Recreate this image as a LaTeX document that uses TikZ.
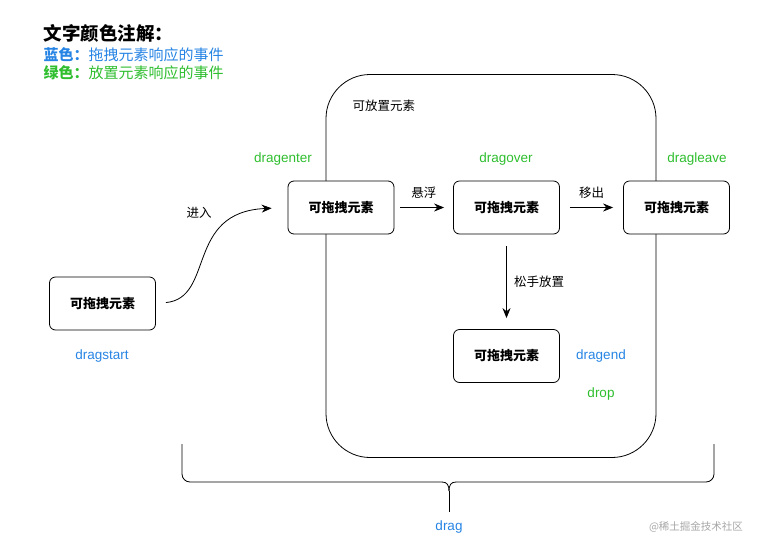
\documentclass[tikz,border=0pt]{standalone}
\usepackage{fontspec}
\setmainfont{Liberation Sans}
\newfontfamily\cjk{Noto Sans CJK SC}
\usetikzlibrary{arrows.meta}

\definecolor{evblue}{RGB}{38,132,228}
\definecolor{evgreen}{RGB}{46,190,46}

\tikzset{
  elem/.style={draw, rounded corners=6pt, fill=white, minimum width=106pt,
    minimum height=53pt, font=\cjk\fontsize{13}{15}\selectfont\bfseries},
  flow/.style={-{Stealth[length=10pt,width=8pt]}},
  evtxt/.style={font=\fontsize{13.5}{15}\selectfont},
  tip/.style={font=\cjk\fontsize{12.5}{14}\selectfont}
}

\begin{document}
\begin{tikzpicture}[x=1pt, y=-1pt, line width=0.8pt]
  \useasboundingbox (0,0) rectangle (782,552);
  % Legend
  \node[anchor=west, font=\cjk\fontsize{18.5}{20}\selectfont\bfseries] (title) at (40,33) {文字颜色注解：};
  \node[anchor=west, evblue, font=\cjk\fontsize{15}{17}\selectfont] (legblue) at (40,55) {\textbf{蓝色：}拖拽元素响应的事件};
  \node[anchor=west, evgreen, font=\cjk\fontsize{15}{17}\selectfont] (leggreen) at (40,73) {\textbf{绿色：}放置元素响应的事件};
  % Drop zone
  \node[draw, rounded corners=44pt, minimum width=330pt, minimum height=383pt] (zone) at (491,266) {};
  \node[anchor=west, font=\cjk\fontsize{12.5}{14}\selectfont] (zonetxt) at (349,106) {可放置元素};
  % Draggable elements
  \node[elem] (start) at (102.5,303.5) {可拖拽元素};
  \node[elem] (enter) at (341,207.5) {可拖拽元素};
  \node[elem] (over) at (506.5,207.5) {可拖拽元素};
  \node[elem] (leave) at (676.5,207.5) {可拖拽元素};
  \node[elem] (dropped) at (506.5,356) {可拖拽元素};
  % Event names
  \node[evtxt, evblue] (evstart) at (102,356) {dragstart};
  \node[evtxt, evgreen] (eventer) at (283,159) {dragenter};
  \node[evtxt, evgreen] (evover) at (506,159) {dragover};
  \node[evtxt, evgreen] (evleave) at (697,159) {dragleave};
  \node[evtxt, evblue] (evend) at (601,356) {dragend};
  \node[evtxt, evgreen] (evdrop) at (601,394) {drop};
  \node[evtxt, evblue] (evdrag) at (449,527) {drag};
  % Transitions
  \draw[flow, shorten <=10pt, shorten >=16pt] (start.east) .. controls (215,298) and (185,212) .. (enter.west);
  \node[tip] (tenter) at (199,213) {进入};
  \draw[flow, shorten <=6pt, shorten >=9pt] (enter) -- node[tip, above=5pt] (thover) {悬浮} (over);
  \draw[flow, shorten <=10pt, shorten >=10pt] (over) -- node[tip, above=5pt] (tleave) {移出} (leave);
  \draw[flow, shorten <=12pt, shorten >=11pt] (over) -- node[tip, right=4pt] (tdrop) {松手放置} (dropped);
  % Brace
  \draw[rounded corners=8pt] (182,444) -- (182,482) -- (442,482);
  \draw (442,482) .. controls (447,482) and (449,485) .. (449,491);
  \draw (456,482) .. controls (451,482) and (449,485) .. (449,491);
  \draw[rounded corners=8pt] (456,482) -- (714,482) -- (714,444);
  \draw[shorten >=5pt] (449,491) -- (evdrag.north);
  % Watermark
  \node[gray!70, font=\cjk\fontsize{10.5}{12}\selectfont] (mark) at (696,527) {@稀土掘金技术社区};
\end{tikzpicture}
\end{document}
